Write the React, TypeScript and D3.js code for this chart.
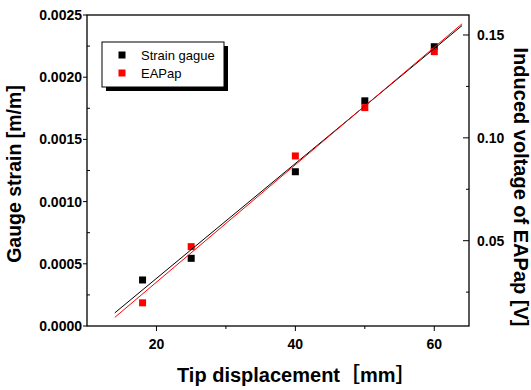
import React from "react";
import * as d3 from "d3";

const displacement = [18, 25, 40, 50, 60];
const strainGauge = [0.00037, 0.000544, 0.00124, 0.00181, 0.002245];
const eapVoltage = [0.0198, 0.0471, 0.0912, 0.1147, 0.1419];
const fitRange = [14, 64];
const xTicks = [20, 40, 60];
const xMinor = [30, 50];
const yLeftTicks = [0, 0.0005, 0.001, 0.0015, 0.002, 0.0025];
const yLeftMinor = [0.00025, 0.00075, 0.00125, 0.00175, 0.00225];
const yRightTicks = [0.05, 0.1, 0.15];
const yRightMinor = [0.025, 0.075, 0.125];
const legendLabels = ["Strain gague", "EAPap"];

const W = 531, H = 390;
const L = 87, R = 469, T = 15, B = 326;
const FONT = "'Liberation Sans', Arial, 'Noto Sans CJK SC', sans-serif";

function linfit(xs: number[], ys: number[]) {
  const mx = d3.mean(xs)!, my = d3.mean(ys)!;
  let sxx = 0, sxy = 0;
  xs.forEach((x, i) => { sxx += (x - mx) ** 2; sxy += (x - mx) * (ys[i] - my); });
  const b = sxy / sxx;
  const a = my - b * mx;
  return (x: number) => a + b * x;
}

export default function App() {
  const x = d3.scaleLinear().domain([10, 65]).range([L, R]);
  const yL = d3.scaleLinear().domain([0, 0.0025]).range([B, T]);
  const yR = d3.scaleLinear().domain([0.00853, 0.15972]).range([B, T]);

  const fitB = linfit(displacement, strainGauge);
  const fitR = linfit(displacement, eapVoltage);
  const lineB = d3.line<number>().x((d) => x(d)).y((d) => yL(fitB(d)));
  const lineR = d3.line<number>().x((d) => x(d)).y((d) => yR(fitR(d)));

  const ms = 7;
  return (
    <svg width={W} height={H} style={{ position: "absolute", left: 0, top: 0, background: "#fff" }} fontFamily={FONT}>
      <rect x={0} y={0} width={W} height={H} fill="#fff" />
      {/* markers */}
      {displacement.map((d, i) => (
        <rect key={"b" + i} x={x(d) - ms / 2} y={yL(strainGauge[i]) - ms / 2} width={ms} height={ms} fill="#000" />
      ))}
      {displacement.map((d, i) => (
        <rect key={"r" + i} x={x(d) - ms / 2} y={yR(eapVoltage[i]) - ms / 2} width={ms} height={ms} fill="#ff0000" />
      ))}
      <path d={lineB(fitRange)!} stroke="#000" strokeWidth={1} fill="none" />
      <path d={lineR(fitRange)!} stroke="#ff0000" strokeWidth={1} fill="none" />

      {/* frame */}
      <rect x={L} y={T} width={R - L} height={B - T} fill="none" stroke="#000" strokeWidth={1.3} />

      {/* left axis */}
      {yLeftTicks.map((t) => (
        <g key={"yl" + t}>
          <line x1={L - 4} x2={L} y1={yL(t)} y2={yL(t)} stroke="#000" strokeWidth={1} />
          <text x={82} y={yL(t)} dy="0.36em" textAnchor="end" fontSize={14} fontWeight="bold">{t.toFixed(4)}</text>
        </g>
      ))}
      {yLeftMinor.map((t) => (
        <line key={"ylm" + t} x1={L} x2={L + 3} y1={yL(t)} y2={yL(t)} stroke="#000" strokeWidth={1} />
      ))}

      {/* right axis */}
      {yRightTicks.map((t) => (
        <g key={"yr" + t}>
          <line x1={R - 6} x2={R} y1={yR(t)} y2={yR(t)} stroke="#000" strokeWidth={1} />
          <text x={477} y={yR(t)} dy="0.36em" textAnchor="start" fontSize={14} fontWeight="bold">{t.toFixed(2)}</text>
        </g>
      ))}
      {yRightMinor.map((t) => (
        <line key={"yrm" + t} x1={R - 3} x2={R} y1={yR(t)} y2={yR(t)} stroke="#000" strokeWidth={1} />
      ))}

      {/* bottom axis */}
      {xTicks.map((t) => (
        <g key={"x" + t}>
          <line x1={x(t)} x2={x(t)} y1={B} y2={B + 5} stroke="#000" strokeWidth={1} />
          <text x={x(t)} y={349} textAnchor="middle" fontSize={14} fontWeight="bold">{t}</text>
        </g>
      ))}
      {xMinor.map((t) => (
        <line key={"xm" + t} x1={x(t)} x2={x(t)} y1={B} y2={B + 3} stroke="#000" strokeWidth={1} />
      ))}

      {/* titles */}
      <text x={177} y={382} fontSize={20} fontWeight="bold">Tip displacement［mm］</text>
      <text transform="translate(21,174) rotate(-90)" textAnchor="middle" fontSize={19.5} fontWeight="bold">Gauge strain [m/m]</text>
      <text transform="translate(514,187) rotate(90)" textAnchor="middle" fontSize={20} fontWeight="bold">Induced voltage of EAPap [V]</text>

      {/* legend */}
      <rect x={106} y={46} width={122} height={45} fill="#000" />
      <rect x={102} y={42} width={122} height={45} fill="#fff" stroke="#000" strokeWidth={1} />
      <rect x={122 - 3.5} y={55 - 3.5} width={7} height={7} fill="#000" />
      <rect x={122 - 3.5} y={73 - 3.5} width={7} height={7} fill="#ff0000" />
      <text x={141} y={55} dy="0.36em" fontSize={13}>{legendLabels[0]}</text>
      <text x={141} y={73} dy="0.36em" fontSize={13}>{legendLabels[1]}</text>
    </svg>
  );
}
